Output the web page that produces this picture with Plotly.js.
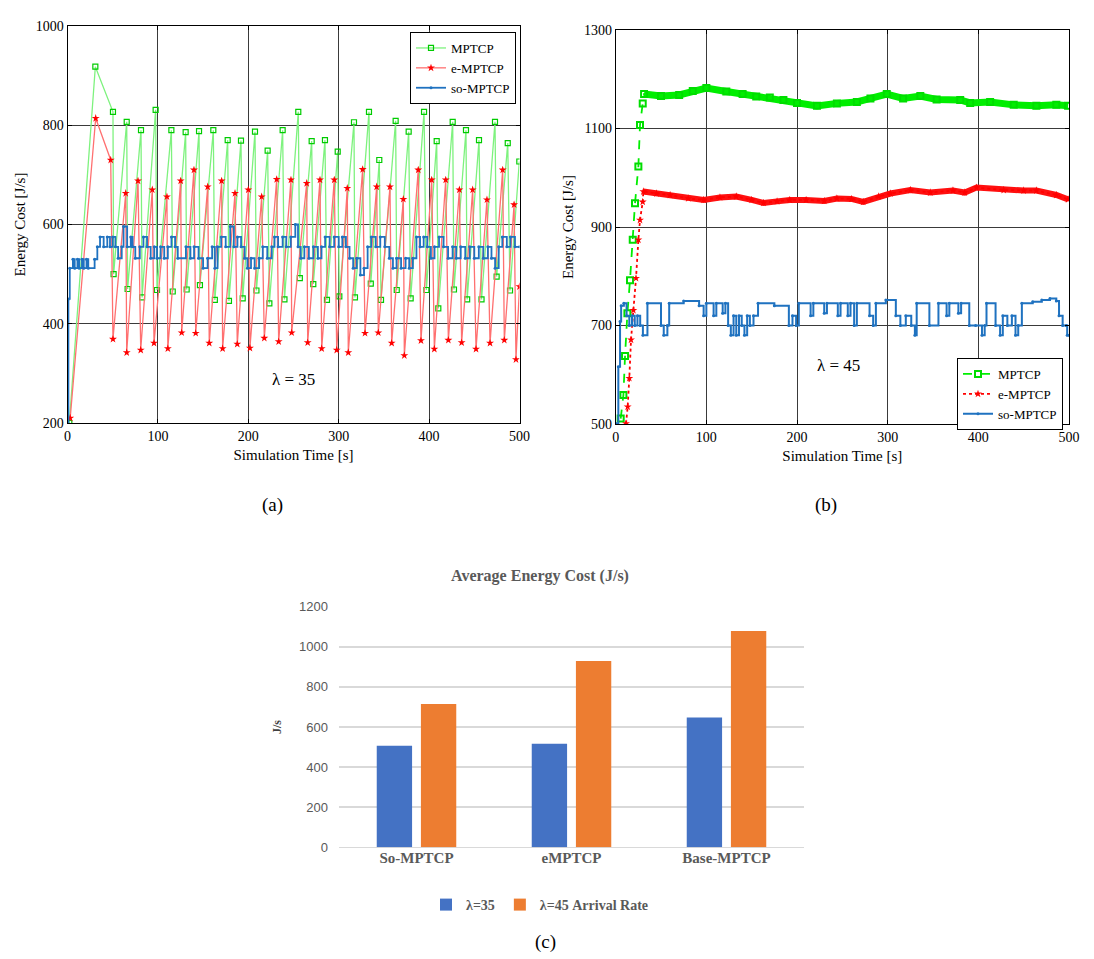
<!DOCTYPE html>
<html>
<head>
<meta charset="utf-8">
<script src="https://cdn.plot.ly/plotly-3.0.1.min.js"></script>
<style>
  html, body { margin: 0; padding: 0; background: #fff; }
  #chart { width: 1094px; height: 959px; }
</style>
</head>
<body>
<div id="chart"></div>
<script>
// ---- panel (a): lambda = 35, [time s, energy J/s] vertices
const mptcpA = [
  [2,200],[30.8,918],[50.3,827],[51,500],[65.5,807],[66.5,470],[81.3,790],[82.5,453],
  [97.5,831],[99,468],[114.9,790],[116.4,465],[130.7,786],[131.8,469],[145.5,788],[146.5,478],
  [161.3,790],[163,448],[177.2,770],[178.6,446],[191.9,769],[193.8,451],[207.4,787],[209,467],
  [221.4,749],[223.3,441],[238,790],[240,449],[255.3,827],[257,492],[270.1,768],[271.9,480],
  [284.8,770],[287,448],[298.9,747],[300.7,455],[316.9,806],[318,453],[333.5,827],[335.5,481],
  [344.9,730],[346.8,448],[363,809],[364.2,468],[377.4,787],[379.6,451],[394.4,827],[397,468],
  [408.4,768],[410.2,431],[426.1,807],[427.5,469],[440.8,790],[442.1,449],[455.2,770],[458,449],
  [472.9,807],[474.7,495],[487,764],[489.5,467],[499.8,727]
];
const eMptcpA = [
  [3,210],[31.2,814],[47.8,730],[50.3,369],[64.4,663],[65.5,342],[78,688],[81,347],
  [93.8,670],[95.7,361],[110,656],[111,350],[125.2,688],[126.3,382],[139.9,710],[141.8,381],
  [155.1,676],[156.8,361],[170.5,688],[171.6,350],[185.3,663],[187.8,359],[200,670],[201.8,351],
  [214.8,656],[217.7,371],[231.4,691],[233.6,364],[247.2,690],[248,382],[264.6,683],[265.7,362],
  [279.3,690],[281.2,350],[295.1,690],[297.8,347],[309.5,673],[310.6,342],[326.5,711],[329.1,381],
  [342,676],[343.8,382],[356.7,676],[358.6,361],[371.5,651],[372.6,336],[388,710],[391,366],
  [402.9,690],[405.8,349],[418.4,690],[421.3,367],[433.5,670],[436,362],[448.2,670],[451.9,349],
  [464,650],[467.4,361],[481.4,710],[483.2,367],[494,640],[496.1,328],[500,475]
];
const soMptcpA = [
  [0,200],[1,450],[2.5,512],[6,530],[8,512],[11,530],[13,512],[16,530],[18,512],[21,530],
  [23,512],[30,530],[33,555],[36,575],[40,555],[44,575],[47,555],[50,575],[53,555],[56,532],
  [60,555],[62,596],[66,555],[70,575],[72,555],[75,532],[80,555],[84,575],[88,555],[92,532],
  [96,555],[99,532],[103,555],[107,532],[111,555],[115,575],[119,555],[122,532],[131,555],[136,532],
  [140,555],[145,532],[150,512],[155,532],[160,555],[163,512],[166,555],[170,575],[175,555],[180,596],
  [184,555],[188,575],[192,555],[196,532],[199,512],[203,532],[207,512],[212,532],[216,555],[221,532],
  [226,555],[229,575],[233,555],[238,575],[242,555],[247,575],[252,600],[255,555],[258,532],[262,555],
  [267,532],[272,555],[277,532],[281,555],[285,575],[290,555],[295,575],[300,555],[304,575],[308,555],
  [312,532],[316,512],[320,532],[324,498],[328,512],[332,555],[336,575],[341,555],[346,575],[351,555],
  [356,532],[360,512],[364,532],[369,512],[374,532],[378,512],[382,532],[386,575],[390,555],[394,575],
  [398,555],[402,532],[406,555],[411,575],[416,555],[421,532],[426,555],[430,532],[435,555],[440,532],
  [445,555],[450,532],[455,555],[460,532],[465,555],[469,532],[473,512],[477,555],[481,575],[486,555],
  [490,575],[495,555],[500,555]
];

// ---- panel (b): lambda = 45
const mptcpB = [
  [5.5,511],[8.5,559],[10.3,638],[12.9,725],[15.8,792],[18.8,874],[21.3,948],[25,1023],
  [26.8,1107],[29.8,1151],[31.3,1170],[50,1166],[70,1168],[85,1176],[100,1182],[122,1175],
  [140,1170],[155,1165],[170,1163],[185,1158],[200,1152],[222,1146],[244,1151],[266,1154],
  [281,1161],[299,1170],[317,1161],[336,1166],[354,1159],[380,1158],[391,1152],[413,1154],
  [439,1148],[464,1146],[486,1148],[499,1146]
];
const eMptcpB = [
  [11.4,501],[13.2,535],[15,593],[16.9,671],[19.5,731],[22.4,796],[25,874],[26.8,914],
  [29.8,951],[30.5,972],[45,968],[60,965],[80,958],[97,955],[115,960],[133,962],
  [150,955],[163,949],[178,952],[192,955],[210,955],[230,953],[244,958],[260,957],
  [273,951],[290,962],[303,968],[325,975],[347,970],[372,974],[385,970],[398,980],
  [428,975],[450,974],[464,974],[486,965],[499,956]
];
const soMptcpB = [
  [0,501],[2.9,616],[4.8,708],[6,740],[9,745],[12,720],[15,700],[18,720],[21,700],[24,720],
  [27,700],[30,680],[35,745],[50,700],[53,680],[57,700],[59,745],[75,750],[92,740],[97,720],
  [100,745],[108,720],[111,745],[118,725],[121,745],[124,700],[127,680],[130,720],[133,680],[136,720],
  [139,700],[142,680],[145,720],[148,700],[152,720],[157,745],[175,740],[191,700],[195,720],[199,700],
  [202,745],[215,720],[218,745],[230,725],[233,745],[245,720],[248,745],[256,720],[259,745],[263,700],
  [266,745],[280,720],[284,700],[287,745],[298,752],[309,720],[314,700],[320,720],[326,700],[330,680],
  [332,745],[346,700],[356,745],[365,720],[368,745],[378,725],[381,745],[390,700],[397,700],[404,680],
  [407,700],[409,745],[419,700],[424,680],[427,720],[432,700],[437,720],[441,680],[444,700],[448,745],
  [460,748],[470,752],[479,755],[486,750],[489,720],[493,700],[497,700],[498,680],[500,680]
];

// ---- panel (c): average energy cost
const protocols = ['So-MPTCP', 'eMPTCP', 'Base-MPTCP'];
const avgLambda35 = [507, 517, 647];
const avgLambda45 = [715, 929, 1079];

const xs = arr => arr.map(p => p[0]);
const ys = arr => arr.map(p => p[1]);

const serif = 'Liberation Serif';
const W = 1094, H = 959;
// page has no margins, so paper coords map straight to pixels
const px = v => v / W;
const py = v => 1 - v / H;

const traces = [
  // (a)
  { x: xs(mptcpA), y: ys(mptcpA), xaxis: 'x', yaxis: 'y', name: 'MPTCP', legend: 'legend',
    mode: 'lines+markers', line: { color: '#7ef27e', width: 1.3 },
    marker: { symbol: 'square-open', size: 5, color: '#00cc00', line: { width: 1.2 } } },
  { x: xs(eMptcpA), y: ys(eMptcpA), xaxis: 'x', yaxis: 'y', name: 'e-MPTCP', legend: 'legend',
    mode: 'lines+markers', line: { color: '#ff7070', width: 1.3 },
    marker: { symbol: 'star', size: 6, color: '#ff0000' } },
  { x: xs(soMptcpA), y: ys(soMptcpA), xaxis: 'x', yaxis: 'y', name: 'so-MPTCP', legend: 'legend',
    mode: 'lines+markers', line: { color: '#1f72c0', width: 1.8, shape: 'hv' },
    marker: { symbol: 'circle', size: 3, color: '#1f72c0' } },

  // (b) thick bands under the plateaus (dense markers in the original)
  { x: xs(mptcpB).slice(10), y: ys(mptcpB).slice(10), xaxis: 'x2', yaxis: 'y2', showlegend: false,
    mode: 'lines', line: { color: '#00ee00', width: 7 }, hoverinfo: 'skip' },
  { x: xs(eMptcpB).slice(9), y: ys(eMptcpB).slice(9), xaxis: 'x2', yaxis: 'y2', showlegend: false,
    mode: 'lines', line: { color: '#ff1010', width: 6 }, hoverinfo: 'skip' },
  { x: xs(mptcpB), y: ys(mptcpB), xaxis: 'x2', yaxis: 'y2', name: 'MPTCP', legend: 'legend2',
    mode: 'lines+markers', line: { color: '#00ee00', width: 1.8, dash: 'dash' },
    marker: { symbol: 'square-open', size: 6, color: '#00dd00', line: { width: 2 } } },
  { x: xs(eMptcpB), y: ys(eMptcpB), xaxis: 'x2', yaxis: 'y2', name: 'e-MPTCP', legend: 'legend2',
    mode: 'lines+markers', line: { color: '#ff0000', width: 1.8, dash: 'dot' },
    marker: { symbol: 'star', size: 6, color: '#ff0000' } },
  { x: xs(soMptcpB), y: ys(soMptcpB), xaxis: 'x2', yaxis: 'y2', name: 'so-MPTCP', legend: 'legend2',
    mode: 'lines+markers', line: { color: '#1f72c0', width: 2, shape: 'hv' },
    marker: { symbol: 'circle', size: 3, color: '#1f72c0' } },

  // (c)
  { type: 'bar', x: protocols, y: avgLambda35, xaxis: 'x3', yaxis: 'y3', name: 'λ=35',
    legend: 'legend3', marker: { color: '#4472C4' } },
  { type: 'bar', x: protocols, y: avgLambda45, xaxis: 'x3', yaxis: 'y3', name: 'λ=45 Arrival Rate',
    legend: 'legend3', marker: { color: '#ED7D31' } }
];

const lineAxis = {
  showline: true, mirror: 'ticks', linecolor: '#000', linewidth: 1,
  showgrid: true, gridcolor: '#3a3a3a', gridwidth: 1, zeroline: false,
  ticks: 'inside', ticklen: 4, tickcolor: '#000',
  tickfont: { family: serif, size: 14, color: '#000' }
};
const lineTitle = t => ({ text: t, font: { family: serif, size: 15, color: '#000' }, standoff: 6 });

function label(text, x, y, size) {
  return { text, x: px(x), y: py(y), xref: 'paper', yref: 'paper', showarrow: false,
    xanchor: 'center', yanchor: 'middle', font: { family: serif, size, color: '#000' } };
}

const layout = {
  width: W, height: H,
  margin: { l: 0, r: 0, t: 0, b: 0 },
  paper_bgcolor: '#fff', plot_bgcolor: '#fff',
  showlegend: true,
  font: { family: serif, color: '#000' },
  bargap: 0.43, bargroupgap: 0.2,

  xaxis: Object.assign({}, lineAxis, { domain: [px(67.5), px(519.5)], range: [0, 500], dtick: 100,
    anchor: 'y', title: lineTitle('Simulation Time [s]') }),
  yaxis: Object.assign({}, lineAxis, { domain: [py(423), py(26)], range: [200, 1000], dtick: 200,
    tick0: 200, anchor: 'x', title: lineTitle('Energy Cost [J/s]') }),
  xaxis2: Object.assign({}, lineAxis, { domain: [px(615.7), px(1069)], range: [0, 500], dtick: 100,
    anchor: 'y2', title: lineTitle('Simulation Time [s]') }),
  yaxis2: Object.assign({}, lineAxis, { domain: [py(424), py(30)], range: [500, 1300], dtick: 200,
    tick0: 500, anchor: 'x2', title: lineTitle('Energy Cost [J/s]') }),

  xaxis3: { domain: [px(339), px(804)], anchor: 'y3', showline: false, showgrid: false,
    ticks: '', tickfont: { family: serif, size: 15, color: '#595959', weight: 'bold' } },
  yaxis3: { domain: [py(847.3), py(606.7)], anchor: 'x3', range: [0, 1200], dtick: 200,
    showgrid: true, gridcolor: '#d9d9d9', gridwidth: 1.5, zeroline: true, zerolinecolor: '#d9d9d9',
    zerolinewidth: 1.5, showline: false, ticks: '', ticklabelstandoff: 10,
    tickfont: { family: 'Liberation Sans', size: 13, color: '#595959' },
    title: { text: 'J/s', standoff: 14, font: { family: serif, size: 12, color: '#404040', weight: 'bold' } } },

  title: { text: 'Average Energy Cost (J/s)', x: px(540), y: py(575), xanchor: 'center', yanchor: 'middle',
    font: { family: serif, size: 16, color: '#595959', weight: 'bold' } },

  legend: { x: px(410), y: py(32), xanchor: 'left', yanchor: 'top', bgcolor: '#fff',
    bordercolor: '#000', borderwidth: 1, font: { family: serif, size: 13, color: '#000' },
    itemwidth: 30, tracegroupgap: 0 },
  legend2: { x: px(957), y: py(358), xanchor: 'left', yanchor: 'top', bgcolor: '#fff',
    bordercolor: '#000', borderwidth: 1, font: { family: serif, size: 13, color: '#000' },
    itemwidth: 30, tracegroupgap: 0 },
  legend3: { orientation: 'h', x: px(540), y: py(905), xanchor: 'center', yanchor: 'middle',
    font: { family: serif, size: 14, color: '#595959', weight: 'bold' }, itemwidth: 30 },

  annotations: [
    label('λ = 35', 293, 380, 17),
    label('λ = 45', 838, 365, 17),
    label('(a)', 272, 505, 19),
    label('(b)', 826, 505, 19),
    label('(c)', 545, 942, 19)
  ]
};

Plotly.newPlot('chart', traces, layout, { staticPlot: true, displayModeBar: false });
</script>
</body>
</html>
